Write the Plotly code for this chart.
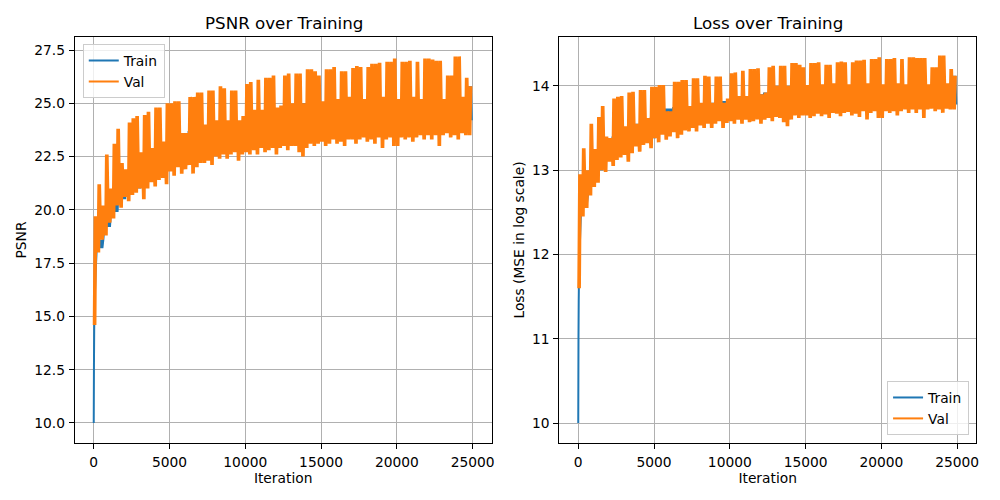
import plotly.graph_objects as go

FONT = "DejaVu Sans"
BLUE = "#1f77b4"
ORANGE = "#ff7f0e"
GRID = "#b0b0b0"

# Validation band, one peak and one trough per 250 iterations
val_psnr_hi = [19.7,21.2,20.2,22.6,21.0,23.1,23.8,22.2,21.9,24.1,
    24.3,24.4,22.7,24.45,24.6,22.9,24.8,24.8,23.2,25.0,
    25.0,25.1,25.1,23.6,23.6,25.3,25.3,25.5,25.5,24.0,
    25.6,25.6,24.2,25.8,25.7,24.2,25.6,25.6,24.2,24.4,
    25.9,26.0,24.7,26.1,24.7,26.2,26.2,26.3,24.8,24.9,
    26.3,26.4,25.0,26.4,26.4,25.0,26.6,26.6,26.5,26.3,
    25.1,26.6,26.6,26.7,25.2,26.5,26.5,25.3,26.65,26.75,
    26.7,25.2,26.7,26.85,26.85,26.9,25.3,26.95,26.95,27.1,
    25.2,26.95,26.95,27.0,25.3,26.95,25.2,27.1,27.1,27.05,
    27.0,27.0,25.2,26.3,26.3,27.2,27.2,25.3,26.2,25.8]
val_psnr_lo = [14.6,18.0,18.6,18.8,19.4,19.6,20.2,20.1,20.6,20.4,
    20.7,20.8,21.0,20.5,21.0,21.3,21.1,21.4,21.5,21.2,
    21.8,21.6,22.0,21.7,21.9,22.1,21.7,22.0,22.2,22.2,
    22.3,22.1,22.5,22.4,22.6,22.4,22.6,22.7,22.3,22.6,
    22.7,22.6,22.8,22.6,22.9,22.7,22.8,22.9,22.6,22.9,
    23.0,22.8,23.0,23.0,22.7,22.5,22.9,23.1,23.0,23.1,
    23.2,23.0,23.1,23.3,23.1,23.2,23.0,23.3,23.3,23.1,
    23.3,23.4,23.2,23.3,23.1,23.4,22.9,23.3,23.4,23.0,
    23.0,23.4,23.3,23.4,23.2,23.4,23.5,23.3,23.5,23.3,
    23.5,23.0,23.5,23.6,23.4,23.5,23.3,23.6,23.5,23.5]
val_loss_hi = [12.95,13.26,13.0,13.55,13.25,13.63,13.76,13.4,13.38,13.85,
    13.87,13.88,13.52,13.92,13.93,13.55,13.95,13.95,13.62,13.99,
    13.99,14.01,14.01,13.7,13.7,14.05,14.05,14.07,14.07,13.76,
    14.09,14.09,13.8,14.12,14.11,13.8,14.11,14.11,13.8,13.85,
    14.15,14.16,13.88,14.18,13.88,14.2,14.2,14.21,13.9,13.92,
    14.22,14.24,14.0,14.24,14.24,14.0,14.27,14.27,14.25,14.22,
    14.01,14.27,14.27,14.28,14.02,14.25,14.25,14.03,14.28,14.29,
    14.28,14.02,14.28,14.3,14.3,14.31,14.03,14.32,14.32,14.34,
    14.02,14.32,14.32,14.33,14.03,14.32,14.02,14.34,14.34,14.33,
    14.33,14.33,14.02,14.22,14.22,14.36,14.36,14.03,14.2,14.12]
val_loss_lo = [11.6,12.45,12.55,12.7,12.8,12.85,13.0,12.98,13.1,13.05,
    13.12,13.15,13.18,13.1,13.2,13.28,13.22,13.3,13.32,13.26,
    13.38,13.33,13.42,13.36,13.4,13.45,13.38,13.42,13.47,13.46,
    13.5,13.46,13.53,13.5,13.55,13.5,13.55,13.58,13.5,13.56,
    13.58,13.55,13.6,13.55,13.6,13.57,13.58,13.6,13.55,13.6,
    13.62,13.58,13.63,13.62,13.57,13.52,13.6,13.65,13.62,13.65,
    13.65,13.62,13.64,13.67,13.64,13.66,13.62,13.68,13.67,13.64,
    13.68,13.69,13.65,13.67,13.63,13.7,13.6,13.68,13.7,13.62,
    13.62,13.7,13.68,13.7,13.65,13.7,13.72,13.68,13.72,13.68,
    13.72,13.62,13.72,13.73,13.7,13.72,13.68,13.73,13.72,13.72]

# Training band, one peak and one trough per 500 iterations after the initial climb
train_start_iter = [0, 15, 30, 60, 120]
train_start_psnr = [10.0, 12.8, 14.4, 15.7, 17.0]
train_start_loss = [10.0, 11.0, 11.45, 11.9, 12.2]
train_psnr_hi = [18.6,19.9,20.8,21.3,21.7,22.0,22.3,22.5,22.8,22.9,
    23.3,23.6,23.7,23.7,23.6,23.8,23.9,24.0,24.1,24.1,
    24.2,24.3,24.4,24.5,24.6,24.6,24.9,25.0,24.9,25.0,
    25.0,25.0,25.0,25.0,25.0,25.0,25.0,25.0,25.1,25.1,
    25.0,25.1,25.1,25.1,25.1,25.1,25.2,25.2,25.2,25.8]
train_psnr_lo = [18.2,19.2,19.9,20.5,20.7,21.0,21.1,21.5,21.7,21.9,
    22.1,22.4,22.5,22.6,22.7,22.8,22.9,23.0,23.1,23.2,
    23.3,23.3,23.4,23.4,23.5,23.5,23.6,23.6,23.6,23.7,
    23.7,23.7,23.8,23.8,23.8,23.8,23.9,23.9,23.9,23.9,
    23.9,24.0,24.0,24.0,24.0,24.1,24.1,24.1,24.1,24.2]
train_loss_hi = [12.7,13.0,13.2,13.3,13.4,13.45,13.5,13.55,13.6,13.62,
    13.68,13.73,13.75,13.75,13.73,13.76,13.78,13.8,13.82,13.82,
    13.84,13.86,13.88,13.9,13.92,13.92,13.96,13.98,13.96,13.98,
    13.98,13.98,13.98,13.98,13.98,13.98,13.98,13.99,13.99,13.99,
    13.99,14.0,14.0,14.0,14.0,14.0,14.01,14.01,14.01,14.12]
train_loss_lo = [12.6,12.85,13.0,13.12,13.15,13.2,13.24,13.31,13.35,13.38,
    13.43,13.47,13.49,13.5,13.52,13.55,13.56,13.58,13.6,13.62,
    13.63,13.63,13.65,13.65,13.67,13.67,13.68,13.68,13.68,13.7,
    13.7,13.7,13.72,13.72,13.72,13.72,13.73,13.73,13.73,13.73,
    13.73,13.75,13.75,13.75,13.75,13.77,13.77,13.77,13.77,13.78]

x_tick_step = 5000
psnr_tick_start, psnr_tick_step = 10, 2.5
loss_tick_start, loss_tick_step = 10, 1


def band_xy(lo, hi, block, strokes, spacing):
    """Strokes running between each read trough and peak inside its block of iterations."""
    xs, ys = [], []
    for i, (a, b) in enumerate(zip(lo, hi)):
        for k in range(strokes):
            xs.append(block * i + spacing * k)
            ys.append(a if k % 2 == 0 else b)
    return xs, ys


fig = go.Figure()
line_w = 2.0
TX = train_start_iter
for (tx_start, t_lo, t_hi, v_lo, v_hi, xa, ya, leg) in [
    (train_start_psnr, train_psnr_lo, train_psnr_hi, val_psnr_lo, val_psnr_hi, "x", "y", "legend"),
    (train_start_loss, train_loss_lo, train_loss_hi, val_loss_lo, val_loss_hi, "x2", "y2", "legend2"),
]:
    bx, by = band_xy(t_lo, t_hi, 500, 8, 62)
    bx = [v + 200 for v in bx]
    keep = [i for i, v in enumerate(bx) if v <= 25000]
    fig.add_trace(go.Scatter(x=TX + [bx[i] for i in keep], y=tx_start + [by[i] for i in keep],
                             mode="lines", name="Train", xaxis=xa, yaxis=ya, legend=leg,
                             line=dict(color=BLUE, width=line_w, simplify=False)))
    vx, vy = band_xy(v_lo, v_hi, 250, 4, 56)
    fig.add_trace(go.Scatter(x=vx, y=vy, mode="lines", name="Val", xaxis=xa, yaxis=ya, legend=leg,
                             line=dict(color=ORANGE, width=line_w, simplify=False)))

W, H = 984, 484
tick_font = dict(family=FONT, size=13.8, color="black")
common = dict(showline=True, mirror=True, linecolor="black", linewidth=1, showgrid=True,
              gridcolor=GRID, gridwidth=1.1, zeroline=False, ticks="outside", ticklen=5,
              tickwidth=1, tickcolor="black", tickfont=tick_font, ticklabelstandoff=1)
xax = dict(common, range=[-1250, 26250], tick0=0, dtick=x_tick_step, tickformat="d",
           title=dict(text="Iteration", standoff=3, font=tick_font))
DOM_Y = [49 / H, 455 / H]
fig.update_layout(
    width=W, height=H, margin=dict(l=0, r=0, t=0, b=0),
    paper_bgcolor="white", plot_bgcolor="white",
    font=dict(family=FONT, size=13.8, color="black"),
    xaxis=dict(xax, domain=[67 / W, 485 / W], anchor="y"),
    xaxis2=dict(xax, domain=[553 / W, 971 / W], anchor="y2"),
    yaxis=dict(common, domain=DOM_Y, anchor="x", range=[9.06, 28.11], tick0=psnr_tick_start,
               dtick=psnr_tick_step, tickformat=".1f",
               title=dict(text="PSNR", standoff=4, font=tick_font)),
    yaxis2=dict(common, domain=DOM_Y, anchor="x2", range=[9.763, 14.58], tick0=loss_tick_start,
                dtick=loss_tick_step, tickformat="d",
                title=dict(text="Loss (MSE in log scale)", standoff=4, font=tick_font)),
    legend=dict(x=75 / W, y=448 / H, xanchor="left", yanchor="top", bgcolor="rgba(255,255,255,0.8)",
                bordercolor="#cccccc", borderwidth=1, font=dict(family=FONT, size=13.8)),
    legend2=dict(x=964 / W, y=57 / H, xanchor="right", yanchor="bottom", bgcolor="rgba(255,255,255,0.8)",
                 bordercolor="#cccccc", borderwidth=1, font=dict(family=FONT, size=13.8)),
    annotations=[
        dict(text="PSNR over Training", x=276.5 / W, y=457 / H, xref="paper", yref="paper", xanchor="center",
             yanchor="bottom", showarrow=False, font=dict(family=FONT, size=16.7, color="black")),
        dict(text="Loss over Training", x=762 / W, y=457 / H, xref="paper", yref="paper", xanchor="center",
             yanchor="bottom", showarrow=False, font=dict(family=FONT, size=16.7, color="black")),
    ],
)
fig.write_html("out.html")
